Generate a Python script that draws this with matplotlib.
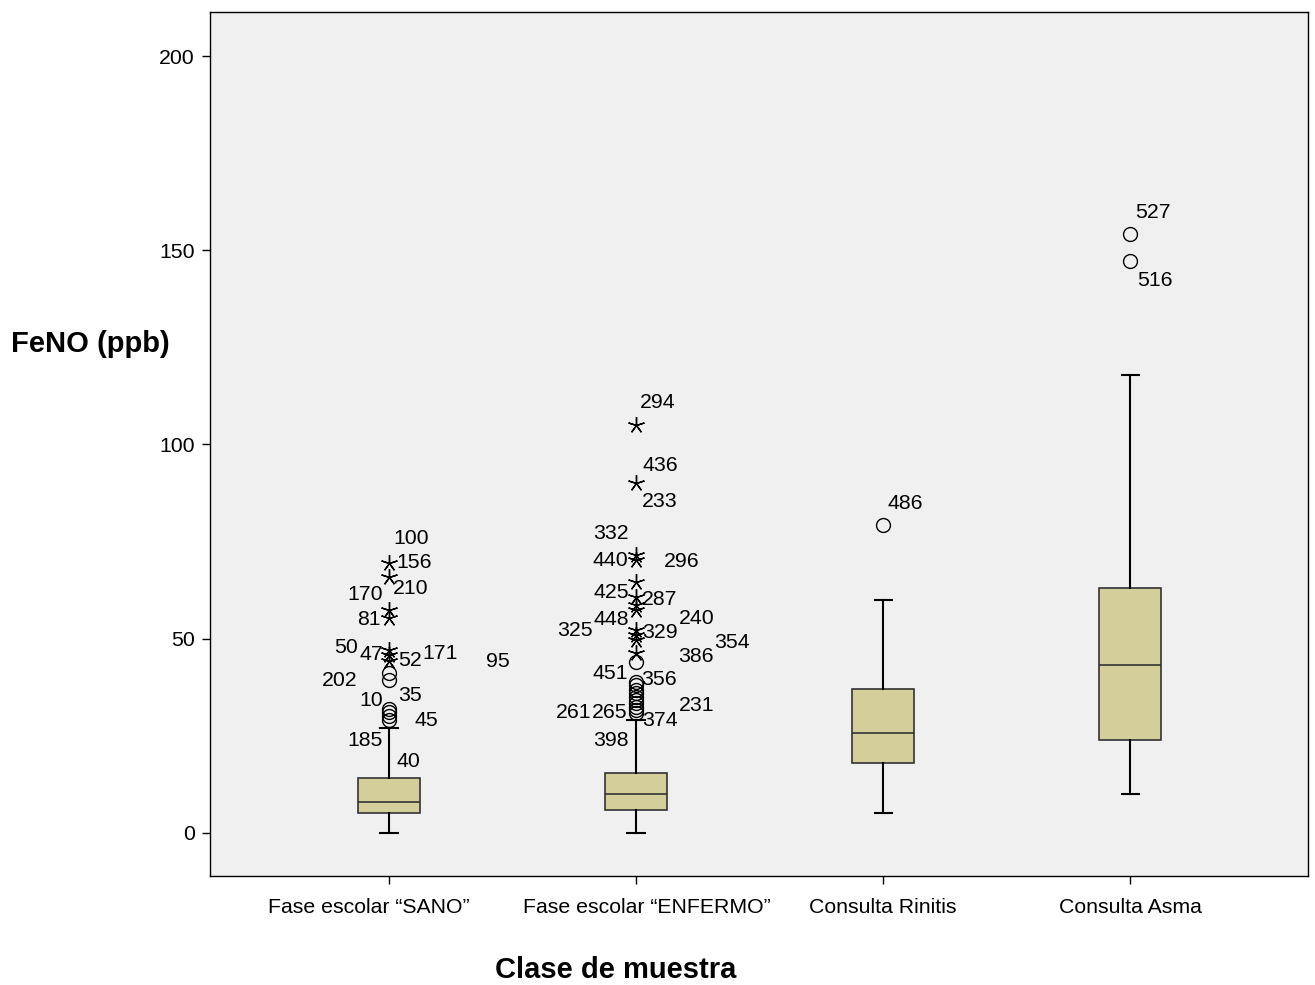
import matplotlib
matplotlib.use("Agg")
import matplotlib.pyplot as plt

plt.rcParams['font.family'] = ['Liberation Sans', 'DejaVu Sans']

# categorias e estatisticas das caixas
grupos = ['Fase escolar \u201cSANO\u201d', 'Fase escolar \u201cENFERMO\u201d', 'Consulta Rinitis', 'Consulta Asma']
whis_lo = [0, 0, 5, 10]
q1 = [5, 5.9, 18, 24]
mediana = [8, 10, 25.7, 43.2]
q3 = [14, 15.5, 37, 63]
whis_hi = [27, 29, 60, 118]

# outliers (circulos) e extremos (asteriscos)
circ_sano = [29, 30, 31, 32, 39.4, 41.2]
ast_sano = [44.3, 45.8, 47.1, 55.3, 57.4, 65.9, 69.5]
circ_enf = [30.9, 31.7, 32.4, 33.5, 34.2, 35, 36, 36.8, 38.1, 38.9, 44]
ast_enf = [46.3, 49.7, 51, 52.3, 57.4, 58.7, 60.7, 64.6, 70.3, 71.6, 90, 105]
circ_rin = [79.3]
circ_asma = [147.2, 154.2]

# rotulos dos casos: (texto, deslocamento x, y do texto)
rot_sano = [('100', 0.089, 75.7), ('156', 0.101, 69.5), ('210', 0.089, 62.8),
            ('170', -0.097, 61.3), ('81', -0.081, 54.8), ('50', -0.174, 47.6),
            ('47', -0.073, 45.8), ('52', 0.085, 44.3), ('171', 0.206, 46.1),
            ('95', 0.441, 44.0), ('202', -0.202, 39.1), ('10', -0.073, 34.0),
            ('35', 0.085, 35.3), ('45', 0.150, 28.8), ('185', -0.097, 23.9),
            ('40', 0.077, 18.3)]
rot_enf = [('294', 0.089, 110.9), ('436', 0.097, 94.7), ('233', 0.097, 85.2),
           ('332', -0.101, 77.0), ('440', -0.105, 70.0), ('296', 0.186, 69.8),
           ('425', -0.101, 61.8), ('287', 0.097, 60.2), ('448', -0.101, 54.8),
           ('325', -0.247, 52.0), ('329', 0.097, 51.7), ('240', 0.247, 55.1),
           ('354', 0.389, 48.9), ('386', 0.243, 45.3), ('451', -0.105, 40.9),
           ('356', 0.093, 39.6), ('261', -0.255, 30.9), ('265', -0.109, 30.9),
           ('231', 0.243, 32.7), ('374', 0.097, 28.8), ('398', -0.101, 23.7)]
rot_rin = [('486', 0.089, 84.7)]
rot_asma = [('527', 0.093, 159.8), ('516', 0.101, 142.1)]

fig = plt.figure(figsize=(13.15, 9.85), dpi=100)
ax = fig.add_axes([0.1597, 0.1107, 0.835, 0.877])
ax.set_facecolor('#f0f0f0')

stats = []
for i in range(4):
    stats.append({'med': mediana[i], 'q1': q1[i], 'q3': q3[i],
                  'whislo': whis_lo[i], 'whishi': whis_hi[i], 'fliers': []})
pos = [1, 2, 3, 4]
ax.bxp(stats, positions=pos, widths=0.25, patch_artist=True, showfliers=False,
       capwidths=0.07,
       boxprops=dict(facecolor='#d4cf9a', edgecolor='#333333', linewidth=1.2),
       medianprops=dict(color='#333333', linewidth=1.2),
       whiskerprops=dict(color='black', linewidth=1.5),
       capprops=dict(color='black', linewidth=1.5))

circ = [circ_sano, circ_enf, circ_rin, circ_asma]
ast = [ast_sano, ast_enf, [], []]
rots = [rot_sano, rot_enf, rot_rin, rot_asma]
for i in range(4):
    if circ[i]:
        ax.plot([pos[i]] * len(circ[i]), circ[i], 'o', mfc='none', mec='black',
                ms=10, mew=1.0, zorder=4)
    if ast[i]:
        ax.plot([pos[i]] * len(ast[i]), ast[i], marker=(5, 2, 0), ls='none',
                color='black', ms=12, mew=1.0, zorder=4)
    for txt, dx, yy in rots[i]:
        ax.text(pos[i] + dx, yy, txt, fontsize=15.3, ha='center', va='center', zorder=5)

ax.set_xlim(0.275, 4.72)
ax.set_ylim(-11.1, 211.3)
ax.set_xticks(pos)
ax.set_xticklabels([])
# rotulos do eixo x desenhados a mao, com o desvio do original
desloc = [-14.4, 7.9, 0, 0]
for p, g, d in zip(pos, grupos, desloc):
    ax.annotate(g, (p, 0), xycoords=ax.get_xaxis_transform(), xytext=(d, -16),
                textcoords='offset points', ha='center', va='top', fontsize=15.3)
ax.set_yticks([0, 50, 100, 150, 200])
ax.tick_params(axis='both', length=6, width=1, labelsize=15.3, pad=5)
for s in ax.spines.values():
    s.set_linewidth(1)

fig.text(0.008, 0.651, 'FeNO (ppb)', fontsize=21, fontweight='bold', ha='left', va='center')
fig.text(0.468, 0.015, 'Clase de muestra', fontsize=21, fontweight='bold', ha='center', va='center')

fig.savefig('out.png', dpi=100)
